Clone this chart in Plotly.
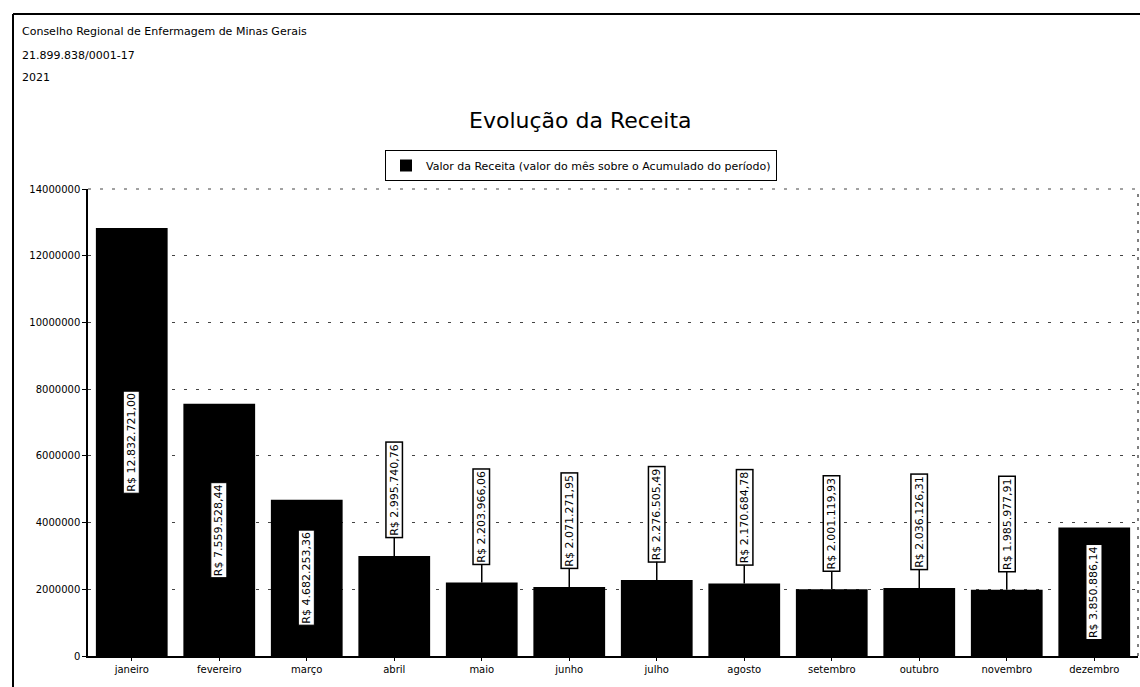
import plotly.graph_objects as go

meses = ["janeiro", "fevereiro", "março", "abril", "maio", "junho",
         "julho", "agosto", "setembro", "outubro", "novembro", "dezembro"]
receita = [12832721.00, 7559528.44, 4682253.36, 2995740.76, 2203966.06, 2071271.95,
           2276505.49, 2170684.78, 2001119.93, 2036126.31, 1985977.91, 3850886.14]
y_ticks = [0, 2000000, 4000000, 6000000, 8000000, 10000000, 12000000, 14000000]
cabecalho = ["Conselho Regional de Enfermagem de Minas Gerais", "21.899.838/0001-17", "2021"]
titulo = "Evolução da Receita"
serie_nome = "Valor da Receita (valor do mês sobre o Acumulado do período)"

W, H = 1140, 687
L, R, T, B = 88, 2, 189, 31
pw, ph = W - L - R, H - T - B


def px(xp):
    return (xp - L) / pw


def py(yp):
    return (H - B - yp) / ph


FONT = "DejaVu Sans"


def brl(v):
    s = f"{v:,.2f}"
    s = s.replace(",", "X").replace(".", ",").replace("X", ".")
    return "R$ " + s


fig = go.Figure()
fig.add_trace(go.Bar(
    x=meses, y=receita, name=serie_nome,
    marker=dict(color="black", line=dict(color="black", width=0)),
    width=0.82,
))

annotations = []
limite = 3500000
for m, v in zip(meses, receita):
    if v > limite:
        annotations.append(dict(
            x=m, y=v / 2, xref="x", yref="y", text=brl(v), textangle=-90,
            showarrow=False, bgcolor="white", bordercolor="black", borderwidth=1,
            borderpad=1, font=dict(family=FONT, size=11, color="black"),
        ))
    else:
        annotations.append(dict(
            x=m, y=v, xref="x", yref="y", text=brl(v), textangle=-90,
            showarrow=True, ax=0, ay=-66, arrowhead=0, arrowwidth=1.5,
            arrowcolor="black", standoff=0,
            bgcolor="white", bordercolor="black", borderwidth=1.5,
            borderpad=1, font=dict(family=FONT, size=11, color="black"),
        ))

for i, t in enumerate(cabecalho):
    annotations.append(dict(
        x=px(20), y=py(32 + i * 23), xref="paper", yref="paper", text=t,
        showarrow=False, xanchor="left", yanchor="middle",
        font=dict(family=FONT, size=11, color="black"),
    ))

annotations.append(dict(
    x=px(580), y=py(120), xref="paper", yref="paper", text=titulo,
    showarrow=False, xanchor="center", yanchor="middle",
    font=dict(family=FONT, size=22, color="black"),
))

shapes = [
    # page frame
    dict(type="line", xref="paper", yref="paper", x0=px(13), x1=px(1140),
         y0=py(14), y1=py(14), line=dict(color="black", width=2)),
    dict(type="line", xref="paper", yref="paper", x0=px(13), x1=px(13),
         y0=py(14), y1=py(687), line=dict(color="black", width=2)),
    # top and right borders of the plot area
    dict(type="line", xref="paper", yref="paper", x0=0, x1=1, y0=1, y1=1,
         line=dict(color="#444", width=1, dash="3px,9px")),
    dict(type="line", xref="paper", yref="paper", x0=1, x1=1, y0=0, y1=1,
         line=dict(color="black", width=1, dash="3px,6px")),
]

fig.update_layout(
    width=W, height=H,
    margin=dict(l=L, r=R, t=T, b=B),
    paper_bgcolor="white", plot_bgcolor="white",
    font=dict(family=FONT, size=10, color="black"),
    bargap=0.18,
    showlegend=True,
    legend=dict(
        orientation="h", x=px(581), xanchor="center", y=py(150), yanchor="top",
        bordercolor="black", borderwidth=1, bgcolor="white",
        font=dict(family=FONT, size=11, color="black"),
        itemsizing="constant",
    ),
    annotations=annotations,
    shapes=shapes,
    xaxis=dict(
        showline=True, linecolor="black", linewidth=1.5,
        ticks="outside", ticklen=3, tickcolor="black",
        tickfont=dict(family=FONT, size=10, color="black"),
        showgrid=False,
    ),
    yaxis=dict(
        range=[0, 14000000], tickvals=y_ticks, tickformat="d",
        showline=True, linecolor="black", linewidth=1.5,
        ticks="outside", ticklen=4, tickcolor="black",
        tickfont=dict(family=FONT, size=10, color="black"),
        showgrid=True, gridcolor="#444", gridwidth=1, griddash="3px,9px",
        zeroline=False,
    ),
)

fig.write_html("out.html")
